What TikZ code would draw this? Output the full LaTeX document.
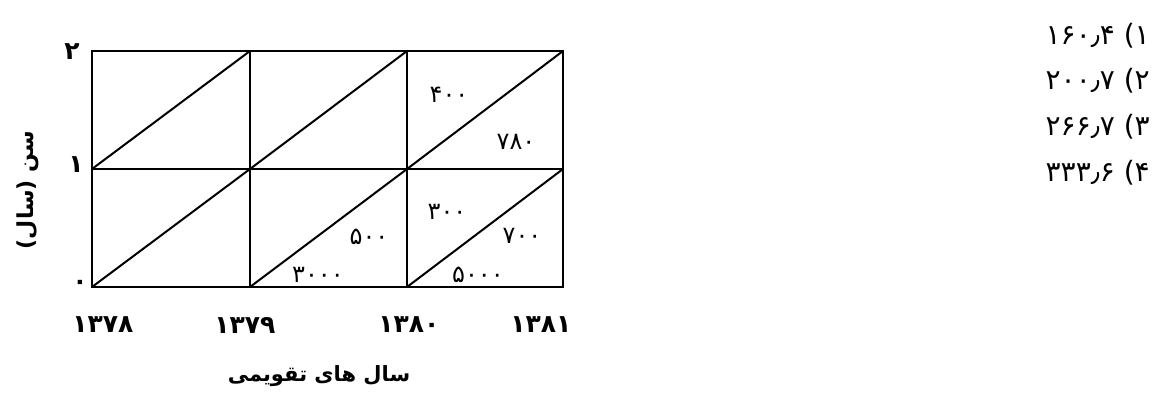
\documentclass[tikz,border=0pt]{standalone}
\usepackage{fontspec}
\TeXXeTstate=1
\newfontfamily\fa[Script=Arabic]{DejaVu Sans}
\newfontfamily\fab[Script=Arabic]{DejaVu Sans Bold}
\begin{document}
\begin{tikzpicture}[x=1pt,y=-1pt,
  gridline/.style={line width=2.3pt},
  thinline/.style={line width=1.8pt},
  diag/.style={line width=2pt},
  cell/.style={font=\fa\fontsize{24}{24}\selectfont, inner sep=0pt},
  axisnum/.style={font=\fab\fontsize{25}{25}\selectfont, inner sep=0pt},
  opt/.style={font=\fa\fontsize{28}{28}\selectfont, inner sep=0pt, anchor=east},
  titlex/.style={font=\fab\fontsize{21}{21}\selectfont, inner sep=0pt},
  titley/.style={font=\fab\fontsize{22}{22}\selectfont, inner sep=0pt}]
\useasboundingbox (0,0) rectangle (1152,392);
% grid
\draw[gridline] (92,51) rectangle (563,287);
\draw[gridline] (92,169) -- (563,169);
\draw[gridline] (250,51) -- (250,287);
\draw[thinline] (407,51) -- (407,287);
% diagonals
\foreach \x/\w in {92/158,250/157,407/156}{
  \draw[diag] (\x,169) -- ({\x+\w},51);
  \draw[diag] (\x,287) -- ({\x+\w},169);
}
% y axis numbers
\node[axisnum] (y2) at (72,52) {۲};
\node[axisnum] (y1) at (76,165) {۱};
\node[axisnum] (y0) at (80,285) {۰};
% x axis numbers
\node[axisnum] (x1) at (103,325) {۱۳۷۸};
\node[axisnum] (x2) at (245,325) {۱۳۷۹};
\node[axisnum] (x3) at (409,325) {۱۳۸۰};
\node[axisnum] (x4) at (541,325) {۱۳۸۱};
% cell labels
\node[cell] (c400) at (449,95) {۴۰۰};
\node[cell] (c780) at (516,142) {۷۸۰};
\node[cell] (c300) at (447,212) {۳۰۰};
\node[cell] (c700) at (522,236) {۷۰۰};
\node[cell] (c500) at (369,237) {۵۰۰};
\node[cell] (c3000) at (318,275) {۳۰۰۰};
\node[cell] (c5000) at (478,275) {۵۰۰۰};
% titles
\node[titlex] (xt) at (319,376) {\beginR سال های تقویمی\endR};
\node[titley, rotate=90] (yt) at (28,190) {\beginR سن (سال)\endR};
% options
\node[opt] (o1) at (1150,36) {\beginR ۱) ۱۶۰٫۴\endR};
\node[opt] (o2) at (1150,81) {\beginR ۲) ۲۰۰٫۷\endR};
\node[opt] (o3) at (1150,127) {\beginR ۳) ۲۶۶٫۷\endR};
\node[opt] (o4) at (1150,173) {\beginR ۴) ۳۳۳٫۶\endR};
\end{tikzpicture}
\end{document}
